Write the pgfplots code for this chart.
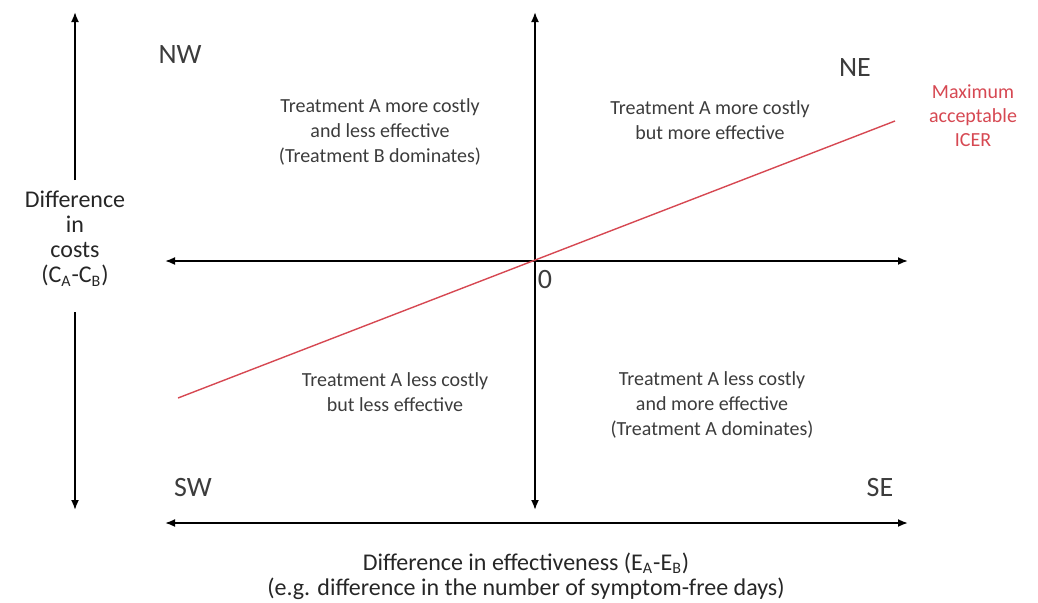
\documentclass[border=0pt]{standalone}
\usepackage{pgfplots}
\pgfplotsset{compat=1.18}
\usepackage{fontspec}
\setmainfont{Carlito}
\usetikzlibrary{arrows.meta}
\definecolor{icer}{RGB}{214,72,82}
\definecolor{txt}{RGB}{60,60,60}
\begin{document}
\begin{tikzpicture}
\begin{axis}[
  width=519pt, height=301pt, scale only axis,
  xmin=0, xmax=1038, ymin=0, ymax=602,
  hide axis, clip=false,
]
% main axes
\addplot[black, line width=0.9pt, {Latex[length=5pt,width=4pt]}-{Latex[length=5pt,width=4pt]}] coordinates {(535,92) (535,590)};
\addplot[black, line width=0.9pt, {Latex[length=5pt,width=4pt]}-{Latex[length=5pt,width=4pt]}] coordinates {(165,341) (908,341)};
% outer arrows
\addplot[black, line width=0.9pt, -{Latex[length=5pt,width=4pt]}] coordinates {(75,422) (75,590)};
\addplot[black, line width=0.9pt, -{Latex[length=5pt,width=4pt]}] coordinates {(75,290) (75,92)};
\addplot[black, line width=0.9pt, {Latex[length=5pt,width=4pt]}-{Latex[length=5pt,width=4pt]}] coordinates {(165,79) (908,79)};
% ICER line
\addplot[icer, line width=0.7pt] coordinates {(178,204) (895,481)};
% labels
\node[txt, font=\fontsize{14}{16}\selectfont] at (axis cs:180,547) {NW};
\node[txt, font=\fontsize{14}{16}\selectfont] at (axis cs:855,534) {NE};
\node[txt, font=\fontsize{14}{16}\selectfont] at (axis cs:193,114) {SW};
\node[txt, font=\fontsize{14}{16}\selectfont] at (axis cs:880,114) {SE};
\node[txt, font=\fontsize{14}{16}\selectfont] at (axis cs:545,322) {0};
\node[txt, align=center, font=\fontsize{10}{12.5}\selectfont] at (axis cs:380,470) {Treatment A more costly\\and less effective\\(Treatment B dominates)};
\node[txt, align=center, font=\fontsize{10}{12.5}\selectfont] at (axis cs:710,482) {Treatment A more costly\\but more effective};
\node[txt, align=center, font=\fontsize{10}{12.5}\selectfont] at (axis cs:395,210) {Treatment A less costly\\but less effective};
\node[txt, align=center, font=\fontsize{10}{12.5}\selectfont] at (axis cs:712,197) {Treatment A less costly\\and more effective\\(Treatment A dominates)};
\node[icer, align=center, font=\fontsize{10}{12}\selectfont] at (axis cs:973,486) {Maximum\\acceptable\\ICER};
\node[black!85, align=center, font=\fontsize{12}{12.5}\selectfont] at (axis cs:75,363) {Difference\\in\\costs\\(C\textsubscript{A}-C\textsubscript{B})};
\node[black!85, align=center, font=\fontsize{12}{12.5}\selectfont] at (axis cs:526,26) {Difference in effectiveness (E\textsubscript{A}-E\textsubscript{B})\\(e.g. difference in the number of symptom-free days)};
\end{axis}
\pgfresetboundingbox
\useasboundingbox (0,0) rectangle (519pt,301pt);
\end{tikzpicture}
\end{document}
